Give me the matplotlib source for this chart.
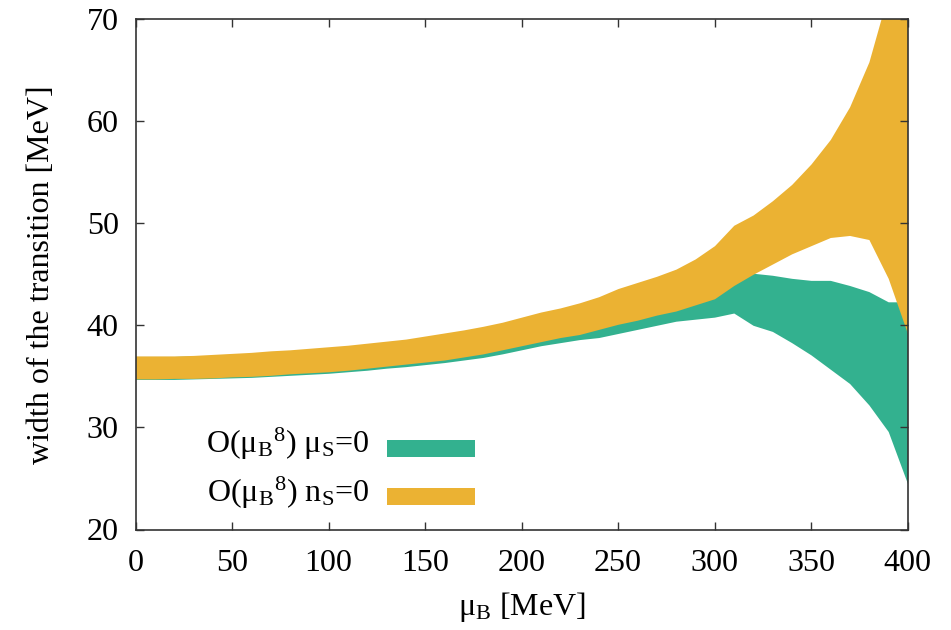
import matplotlib
matplotlib.use("Agg")
import matplotlib.pyplot as plt
from matplotlib.patches import Rectangle

# mu_B grid [MeV]
mu_b = list(range(0, 401, 10))

# O(mu_B^8), mu_S = 0 band (green)
mus_lo = [34.7, 34.7, 34.7, 34.75, 34.8, 34.85, 34.9, 35.0, 35.1, 35.2,
          35.3, 35.45, 35.6, 35.8, 35.95, 36.15, 36.35, 36.6, 36.85, 37.2,
          37.6, 38.0, 38.3, 38.6, 38.8, 39.2, 39.6, 40.0, 40.4, 40.6,
          40.8, 41.2, 40.0, 39.4, 38.3, 37.1, 35.7, 34.3, 32.2, 29.6,
          24.5]
mus_hi = [36.95, 36.95, 36.95, 37.0, 37.05, 37.15, 37.25, 37.35, 37.45, 37.6,
          37.7, 37.85, 38.0, 38.2, 38.4, 38.6, 38.9, 39.2, 39.5, 39.9,
          40.3, 40.7, 41.1, 41.5, 41.9, 42.3, 42.6, 42.9, 43.1, 43.3,
          43.5, 44.5, 45.1, 44.9, 44.6, 44.4, 44.4, 43.9, 43.3, 42.3,
          42.3]

# O(mu_B^8), n_S = 0 band (orange)
ns_lo = [34.75, 34.75, 34.8, 34.8, 34.85, 34.95, 35.0, 35.1, 35.25, 35.35,
         35.45, 35.6, 35.8, 36.0, 36.2, 36.4, 36.6, 36.9, 37.2, 37.6,
         38.0, 38.4, 38.8, 39.1, 39.6, 40.1, 40.5, 41.0, 41.4, 42.0,
         42.6, 43.9, 45.0, 46.0, 47.0, 47.8, 48.6, 48.8, 48.4, 44.6,
         39.2]
ns_hi = [37.0, 37.0, 37.0, 37.05, 37.15, 37.25, 37.35, 37.5, 37.6, 37.75,
         37.9, 38.05, 38.25, 38.45, 38.65, 38.95, 39.25, 39.55, 39.9, 40.3,
         40.8, 41.3, 41.7, 42.2, 42.8, 43.6, 44.2, 44.8, 45.5, 46.5,
         47.8, 49.8, 50.8, 52.2, 53.8, 55.8, 58.2, 61.4, 65.8, 72.5,
         80.0]

labels = [r"O(μ$_{\rm B}{}^{8}$) μ$_{\rm S}$=0", r"O(μ$_{\rm B}{}^{8}$) n$_{\rm S}$=0"]
colors = ["#33b18f", "#ebb233"]

plt.rcParams["font.family"] = ["Liberation Serif", "DejaVu Serif"]
plt.rcParams["mathtext.fontset"] = "custom"
plt.rcParams["mathtext.rm"] = "Liberation Serif"
plt.rcParams["mathtext.it"] = "Liberation Serif:italic"
plt.rcParams["mathtext.bf"] = "Liberation Serif:bold"

fs = 23

fig = plt.figure(figsize=(9.51, 6.30), dpi=100)
ax = fig.add_axes([135.5 / 951, 1 - 529.5 / 630, 772 / 951, 510.5 / 630])

ax.fill_between(mu_b, mus_lo, mus_hi, color=colors[0], lw=0)
ax.fill_between(mu_b, ns_lo, ns_hi, color=colors[1], lw=0)

ax.set_xlim(0, 400)
ax.set_ylim(20, 70)
ax.set_xticks(range(0, 401, 50))
ax.set_yticks(range(20, 71, 10))
ax.tick_params(direction="in", length=5.5, width=1.0, color="#333333",
               top=True, right=True, labelsize=fs)
ax.tick_params(axis="x", pad=14)
ax.tick_params(axis="y", pad=12)
for sp in ax.spines.values():
    sp.set_linewidth(1.2)
    sp.set_color("#333333")

ax.set_xlabel(r"μ$_{\rm B}$ [MeV]", fontsize=fs, labelpad=9)
ax.set_ylabel("width of the transition [MeV]", fontsize=fs, labelpad=22)

# key in the gnuplot style: text on the left, swatch on the right
key_y = [0.150, 0.054]
box_y = [0.142, 0.048]
for lab, col, ty, by in zip(labels, colors, key_y, box_y):
    ax.text(0.3025, ty, lab, transform=ax.transAxes, ha="right",
            va="baseline", fontsize=fs)
    ax.add_patch(Rectangle((0.3258, by), 0.114, 0.034, transform=ax.transAxes,
                           facecolor=col, edgecolor="none"))

fig.savefig("out.png", dpi=100)
